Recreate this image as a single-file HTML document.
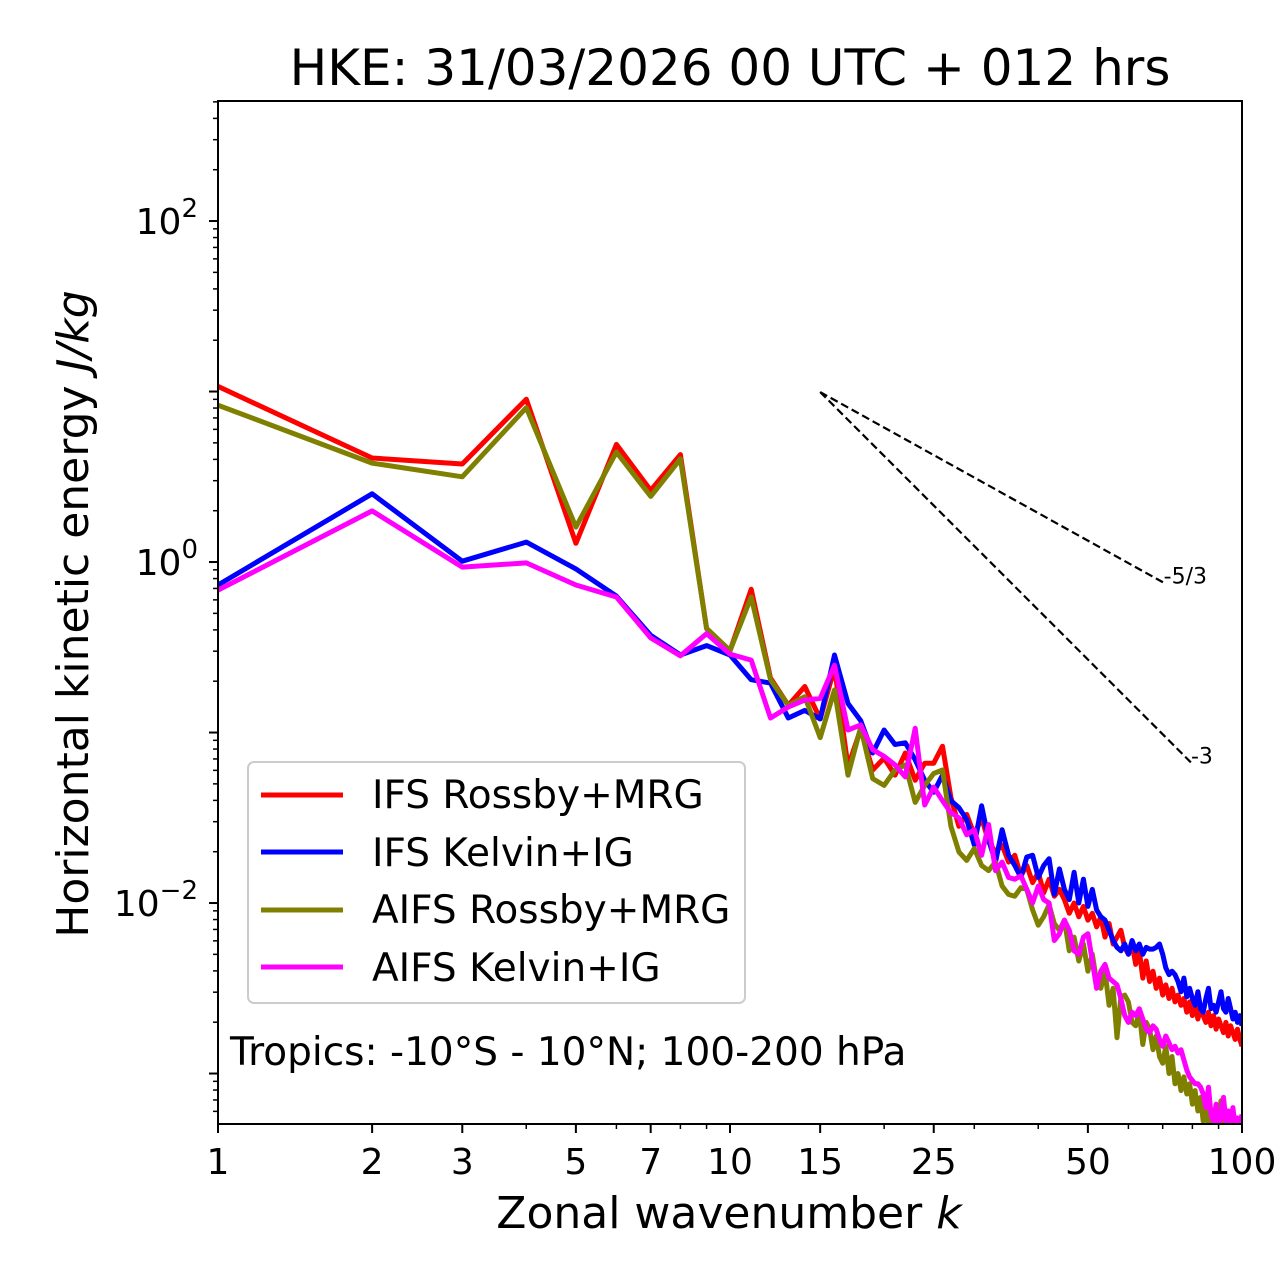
<!DOCTYPE html>
<html><head><meta charset="utf-8"><style>
html,body{margin:0;padding:0;background:#fff;}
svg{display:block;font-family:"DejaVu Sans","Liberation Sans",sans-serif;}
</style></head><body>
<svg id="chart" width="1280" height="1288" viewBox="0 0 1280 1288" xmlns="http://www.w3.org/2000/svg">
<defs><clipPath id="plotclip"><rect x="218" y="101" width="1024" height="1023"/></clipPath></defs>
<rect width="1280" height="1288" fill="#fff"/>
<text x="730" y="85" font-size="50" text-anchor="middle">HKE: 31/03/2026 00 UTC + 012 hrs</text>
<g id="ticks"></g>
<g id="series" clip-path="url(#plotclip)"></g>
<rect x="218" y="101" width="1024" height="1023" fill="none" stroke="#000" stroke-width="2"/>
<text x="729" y="1228" font-size="44" text-anchor="middle">Zonal wavenumber <tspan font-style="italic">k</tspan></text>
<text transform="translate(88,614) rotate(-90)" font-size="44" text-anchor="middle">Horizontal kinetic energy <tspan font-style="italic">J/kg</tspan></text>
<g>
<rect x="248" y="762" width="497" height="241" rx="6" fill="#fff" fill-opacity="0.8" stroke="#ccc" stroke-width="2"/>
<line x1="261" y1="795" x2="343" y2="795" stroke="#ff0000" stroke-width="5"/>
<text x="372" y="808" font-size="39">IFS Rossby+MRG</text>
<line x1="261" y1="852" x2="343" y2="852" stroke="#0000ff" stroke-width="5"/>
<text x="372" y="866" font-size="39">IFS Kelvin+IG</text>
<line x1="261" y1="910" x2="343" y2="910" stroke="#808000" stroke-width="5"/>
<text x="372" y="923" font-size="39">AIFS Rossby+MRG</text>
<line x1="261" y1="967" x2="343" y2="967" stroke="#ff00ff" stroke-width="5"/>
<text x="372" y="981" font-size="39">AIFS Kelvin+IG</text>
</g>
<text x="230" y="1065" font-size="39">Tropics: -10°S - 10°N; 100-200 hPa</text>
</svg>
<script>
// log10 of energy (J/kg) for wavenumbers k = 1..100
const wavenumbers = Array.from({length:100},(_, i)=>i+1);
const ifsRossbyLog = [1.03,0.61,0.575,0.955,0.11,0.69,0.42,0.63,-0.39,-0.52,-0.16,-0.68,-0.84,-0.73,-0.92,-0.62,-1.2,-0.98,-1.22,-1.15,-1.25,-1.12,-1.28,-1.18,-1.18,-1.08,-1.38,-1.55,-1.48,-1.6,-1.5,-1.64,-1.7,-1.66,-1.76,-1.72,-1.84,-1.78,-1.88,-1.82,-1.94,-1.86,-1.96,-1.92,-1.98,-2.06,-2.0,-2.08,-2.02,-2.1,-2.06,-2.14,-2.08,-2.2,-2.12,-2.24,-2.2,-2.16,-2.26,-2.3,-2.24,-2.36,-2.28,-2.44,-2.34,-2.46,-2.4,-2.5,-2.44,-2.54,-2.48,-2.56,-2.5,-2.58,-2.54,-2.6,-2.56,-2.64,-2.58,-2.66,-2.6,-2.68,-2.62,-2.66,-2.7,-2.64,-2.72,-2.66,-2.74,-2.68,-2.72,-2.76,-2.7,-2.78,-2.72,-2.76,-2.8,-2.74,-2.8,-2.84];
const ifsKelvinLog = [-0.135,0.40,0.005,0.117,-0.04,-0.2,-0.43,-0.545,-0.49,-0.545,-0.69,-0.71,-0.915,-0.87,-0.92,-0.545,-0.83,-0.93,-1.12,-0.985,-1.07,-1.06,-1.16,-1.28,-1.35,-1.25,-1.4,-1.44,-1.51,-1.66,-1.43,-1.63,-1.76,-1.57,-1.72,-1.78,-1.85,-1.73,-1.72,-1.85,-1.78,-1.74,-1.95,-1.8,-1.92,-1.98,-1.82,-2.0,-1.86,-2.02,-1.92,-2.04,-2.08,-2.1,-2.16,-2.22,-2.26,-2.28,-2.24,-2.3,-2.22,-2.28,-2.24,-2.3,-2.26,-2.27,-2.27,-2.26,-2.24,-2.3,-2.38,-2.42,-2.4,-2.42,-2.46,-2.52,-2.44,-2.55,-2.5,-2.56,-2.6,-2.52,-2.62,-2.64,-2.56,-2.5,-2.62,-2.6,-2.64,-2.58,-2.52,-2.62,-2.64,-2.56,-2.62,-2.68,-2.64,-2.7,-2.66,-2.72];
const aifsRossbyLog = [0.92,0.58,0.5,0.905,0.205,0.645,0.385,0.605,-0.39,-0.52,-0.205,-0.69,-0.84,-0.79,-1.03,-0.75,-1.25,-0.97,-1.27,-1.31,-1.22,-1.19,-1.41,-1.31,-1.24,-1.22,-1.55,-1.70,-1.75,-1.68,-1.78,-1.81,-1.76,-1.9,-1.95,-1.96,-1.91,-1.92,-2.04,-2.13,-2.08,-2.01,-2.12,-2.16,-2.1,-2.28,-2.2,-2.34,-2.24,-2.4,-2.3,-2.46,-2.5,-2.4,-2.6,-2.5,-2.79,-2.55,-2.54,-2.58,-2.7,-2.72,-2.64,-2.83,-2.7,-2.74,-2.86,-2.78,-2.9,-2.94,-2.84,-3.0,-2.9,-3.06,-3.0,-3.1,-3.02,-3.12,-3.06,-3.18,-3.1,-3.22,-3.14,-3.28,-3.2,-3.3,-3.22,-3.34,-3.36,-3.26,-3.16,-3.32,-3.4,-3.34,-3.42,-3.36,-3.44,-3.4,-3.46,-3.5];
const aifsKelvinLog = [-0.165,0.3,-0.03,-0.005,-0.135,-0.205,-0.445,-0.55,-0.42,-0.54,-0.575,-0.915,-0.85,-0.81,-0.8,-0.605,-0.985,-0.955,-1.1,-1.14,-1.19,-1.26,-0.975,-1.425,-1.32,-1.4,-1.47,-1.5,-1.6,-1.57,-1.72,-1.54,-1.81,-1.76,-1.85,-1.86,-1.84,-1.92,-2.0,-1.9,-1.98,-2.0,-2.22,-2.18,-2.1,-2.16,-2.28,-2.3,-2.2,-2.18,-2.34,-2.5,-2.4,-2.36,-2.44,-2.46,-2.48,-2.56,-2.66,-2.7,-2.64,-2.66,-2.62,-2.68,-2.74,-2.76,-2.72,-2.74,-2.8,-2.84,-2.78,-2.82,-2.86,-2.84,-2.88,-2.86,-2.92,-2.98,-3.02,-3.04,-3.06,-3.06,-3.08,-3.12,-3.2,-3.08,-3.24,-3.28,-3.18,-3.3,-3.26,-3.14,-3.28,-3.22,-3.3,-3.2,-3.32,-3.26,-3.3,-3.24];
const xTickValues = [1,2,3,5,7,10,15,25,50,100];
const xTickLabels = ["1","2","3","5","7","10","15","25","50","100"];
const yMajorExponents = [-2,0,2];
const refSlopeLabels = ["-5/3","-3"];
const refSlopes = [-5/3,-3];
const refEndK = [70.3,79.5];
const refStartK = 15;
const refStartLog = 0.997;

const X0=218, X1=1242, Y0=101, Y1=1124;
const xLogMin=0, xLogMax=2, yLogMin=-3.296, yLogMax=2.704;
function xPos(k){return X0+(Math.log10(k)-xLogMin)/(xLogMax-xLogMin)*(X1-X0);}
function yPosLog(l){return Y1-(l-yLogMin)/(yLogMax-yLogMin)*(Y1-Y0);}
const NS="http://www.w3.org/2000/svg";
function mk(tag,attrs,parent){const e=document.createElementNS(NS,tag);for(const a in attrs)e.setAttribute(a,attrs[a]);parent.appendChild(e);return e;}
const ticks=document.getElementById('ticks');
const series=document.getElementById('series');

for(let d=1; d<=100; d*= 10){
  for(let m=1;m<=9;m++){
    const v=d*m; if(v>100) break;
    const x=xPos(v);
    const major=(m===1);
    const t=mk('line',{x1:x,x2:x,y1:Y1,y2:Y1+(major?9:5),stroke:'#000','stroke-width':major?2:1.5},ticks);
    
    
  }
}
xTickValues.forEach((v,i)=>{
  const x=xPos(v);
  const t=mk('line',{x1:x,x2:x,y1:Y1,y2:Y1+9,stroke:'#000','stroke-width':2},ticks);
  
  
  const lb=mk('text',{x:x,y:Y1+50,'font-size':36,'text-anchor':'middle'},ticks);
  lb.textContent=xTickLabels[i];
  
  
});
for(let e=-4;e<=2;e++){
  for(let m=1;m<=9;m++){
    const l=e+Math.log10(m);
    if(l<yLogMin||l>yLogMax) continue;
    const y=yPosLog(l);
    const major=(m===1);
    const t=mk('line',{x1:X0-(major?9:5),x2:X0,y1:y,y2:y,stroke:'#000','stroke-width':major?2:1.5},ticks);
    
    
  }
}
yMajorExponents.forEach(e=>{
  const y=yPosLog(e);
  const lb=mk('text',{x:X0-20,y:y+13,'font-size':36,'text-anchor':'end'},ticks);
  
  
  const b=document.createElementNS(NS,'tspan'); b.textContent='10'; lb.appendChild(b);
  const s=document.createElementNS(NS,'tspan'); s.setAttribute('dy','-17'); s.setAttribute('font-size','26'); s.textContent=(e<0?'\u2212':'')+Math.abs(e); lb.appendChild(s);
});

const seriesDefs=[
  {name:'ifs-rossby-mrg-line',data:ifsRossbyLog,color:'#ff0000'},
  {name:'ifs-kelvin-ig-line',data:ifsKelvinLog,color:'#0000ff'},
  {name:'aifs-rossby-mrg-line',data:aifsRossbyLog,color:'#808000'},
  {name:'aifs-kelvin-ig-line',data:aifsKelvinLog,color:'#ff00ff'}
];
seriesDefs.forEach(s=>{
  const pts=s.data.map((v,i)=>xPos(wavenumbers[i]).toFixed(1)+','+yPosLog(v).toFixed(1)).join(' ');
  const p=mk('polyline',{points:pts,fill:'none',stroke:s.color,'stroke-width':5,'stroke-linejoin':'round'},series);
  
  
});
refSlopes.forEach((sl,i)=>{
  const x1=xPos(refStartK), y1=yPosLog(refStartLog);
  const endLog=refStartLog+sl*(Math.log10(refEndK[i])-Math.log10(refStartK));
  const x2=xPos(refEndK[i]), y2=yPosLog(endLog);
  const l=mk('line',{x1:x1,y1:y1,x2:x2,y2:y2,stroke:'#000','stroke-width':2.2,'stroke-dasharray':'8,4'},ticks.parentNode);
  
  
  const t=mk('text',{x:x2,y:y2+1,'font-size':22},ticks.parentNode);
  t.textContent=refSlopeLabels[i];
  
  
});
</script>
</body></html>
